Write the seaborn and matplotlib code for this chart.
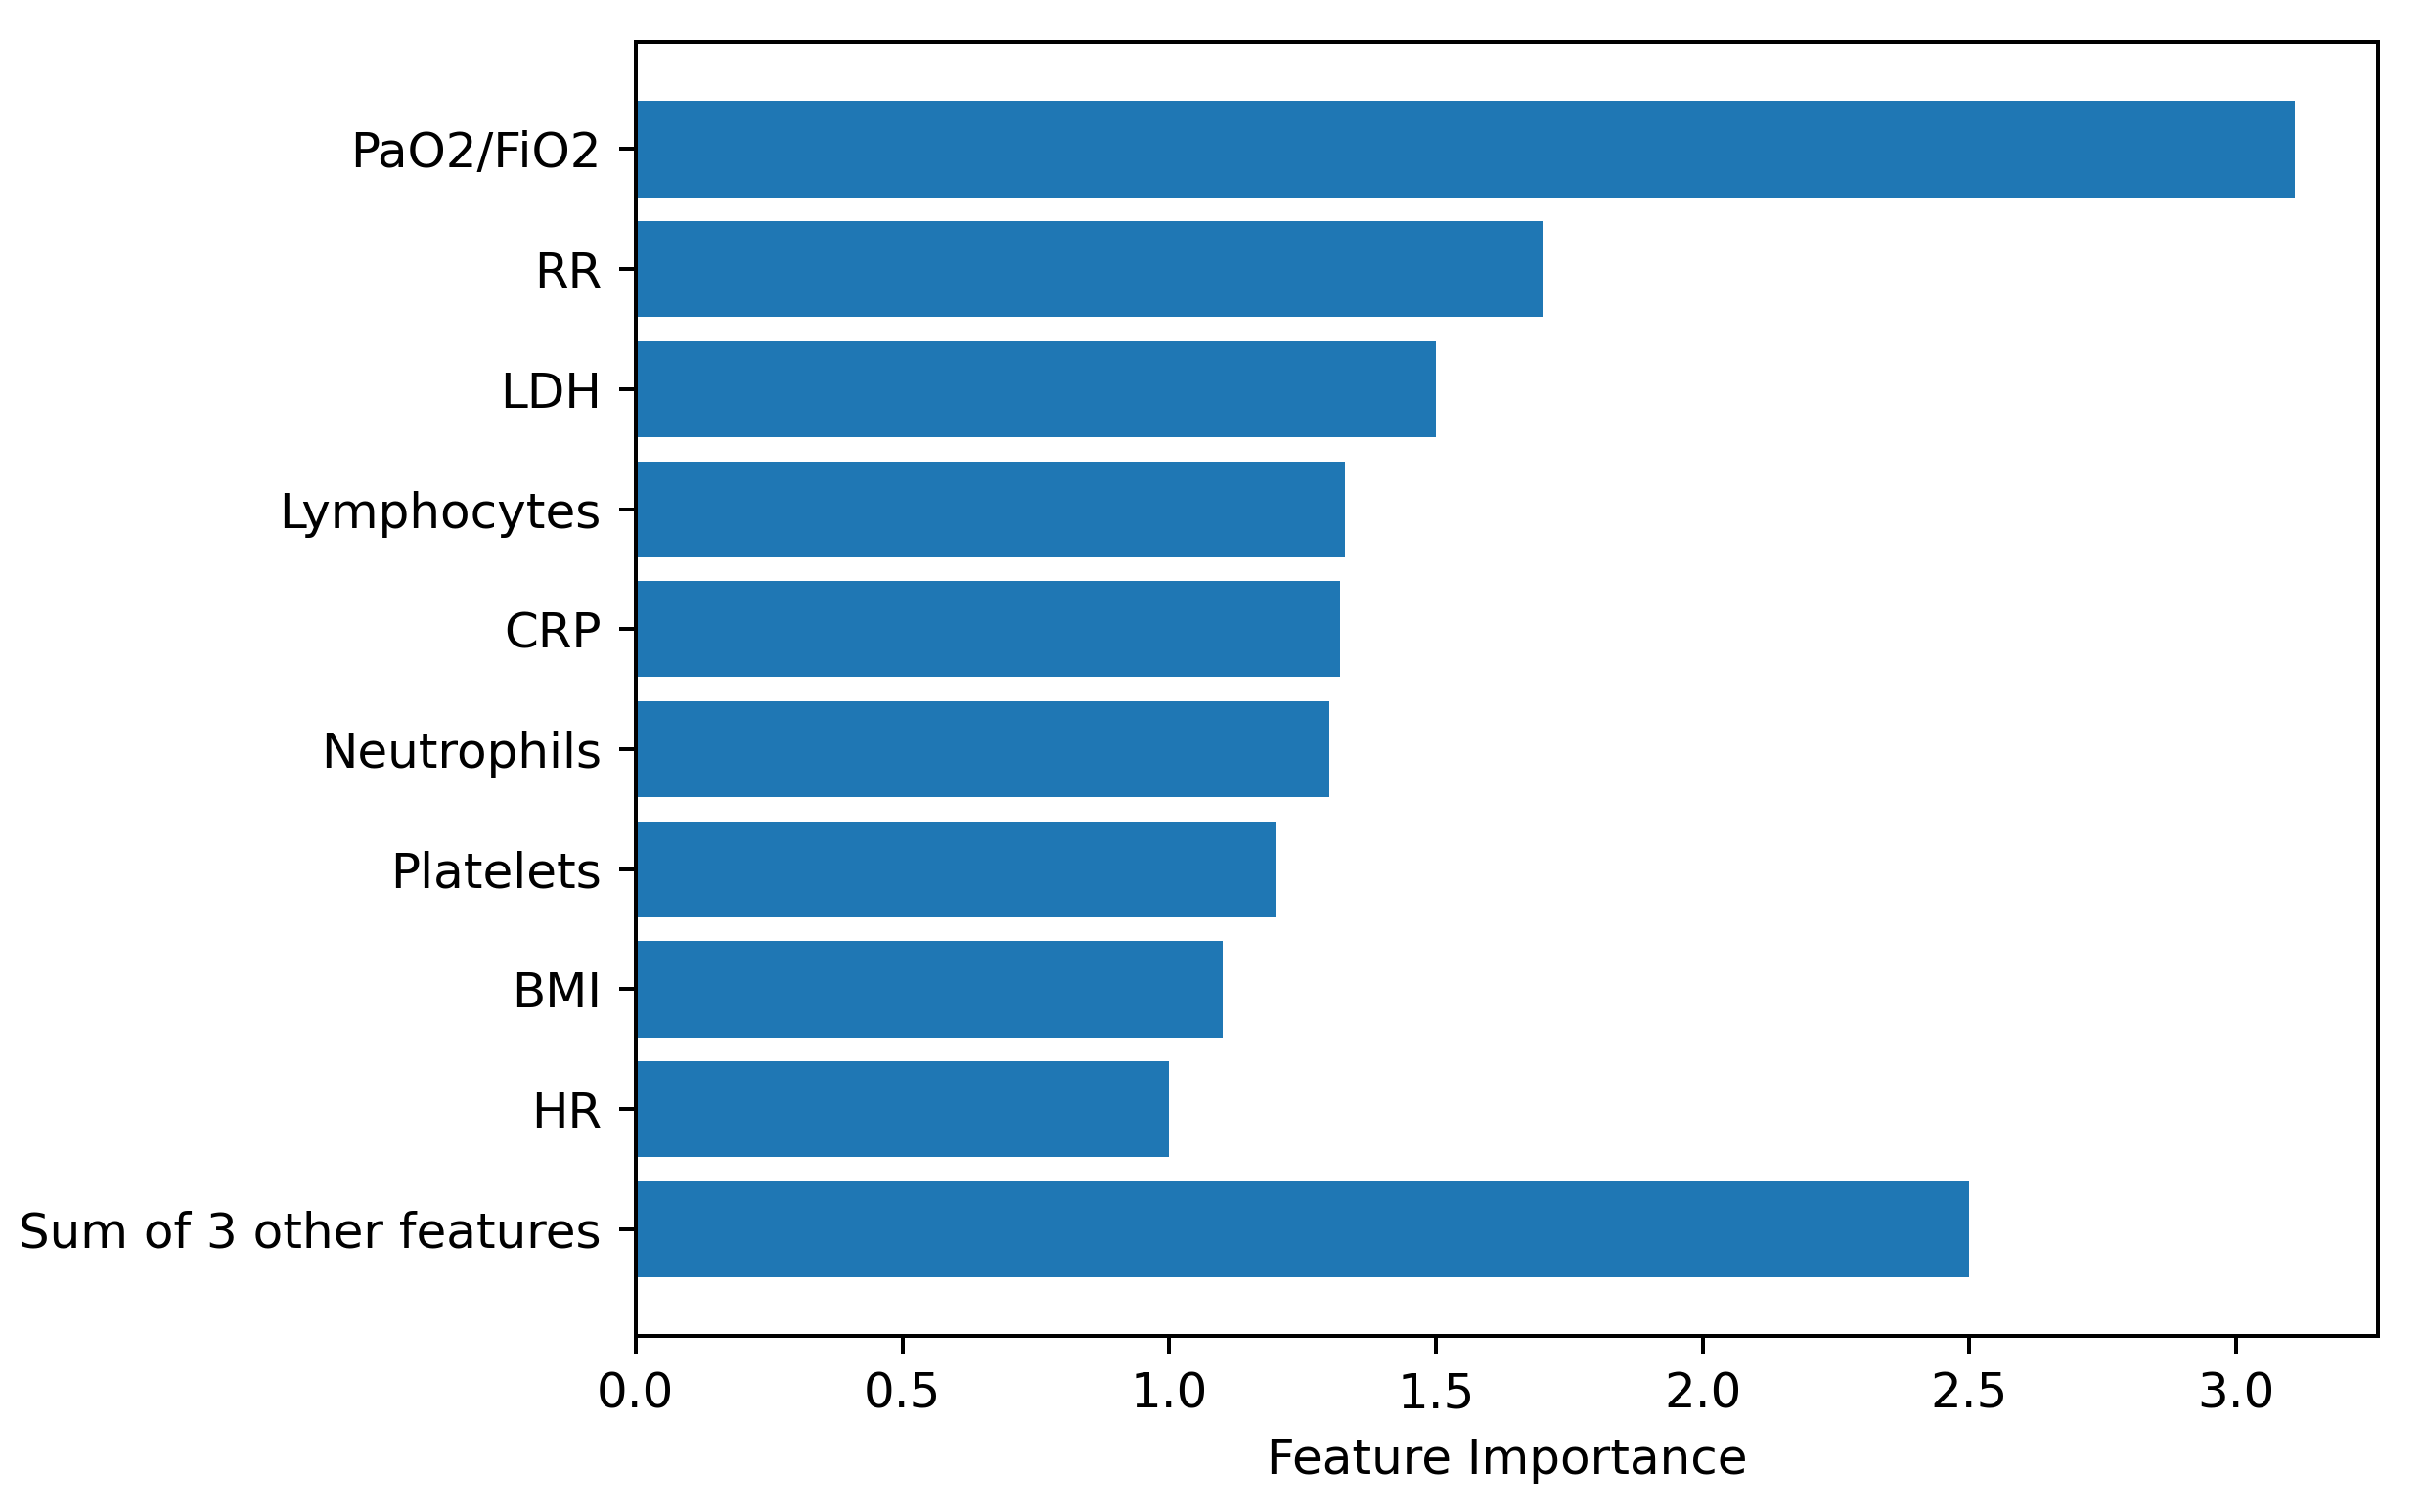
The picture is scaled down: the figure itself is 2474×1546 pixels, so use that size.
import matplotlib
matplotlib.use("Agg")
import matplotlib.pyplot as plt
import seaborn as sns
import pandas as pd

features = ['PaO2/FiO2', 'RR', 'LDH', 'Lymphocytes', 'CRP', 'Neutrophils',
            'Platelets', 'BMI', 'HR', 'Sum of 3 other features']
importance = [3.11, 1.70, 1.50, 1.33, 1.32, 1.30, 1.20, 1.10, 1.00, 2.50]

df = pd.DataFrame({'feature': features, 'importance': importance})

plt.rcParams['font.family'] = ['DejaVu Sans']

fig = plt.figure(figsize=(2474 / 360, 1546 / 360), dpi=360)
ax = fig.add_axes([0.2627, 0.1164, 0.7199, 0.8556])

sns.barplot(data=df, x='importance', y='feature', orient='h', ax=ax,
            color='#1f77b4', saturation=1, width=0.8, linewidth=0)

# matplotlib-like margins around the bars
n = len(features)
pad = (n - 1 + 0.8) * 0.05
ax.set_ylim(n - 1 + 0.4 + pad, -0.4 - pad)
ax.set_xlim(0, max(importance) * 1.05)
ax.set_ylabel('')
ax.set_xlabel('Feature Importance')

fig.savefig('out.png', dpi=360)
